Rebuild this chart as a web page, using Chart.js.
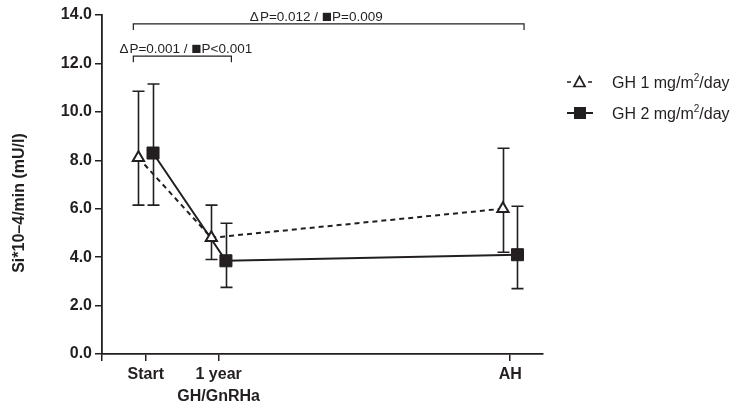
<!DOCTYPE html>
<html><head><meta charset="utf-8">
<script src="https://cdn.jsdelivr.net/npm/chart.js@4/dist/chart.umd.min.js"></script>
<style>html,body{margin:0;padding:0;background:#fff}#wrap{width:739px;height:409px;position:relative}</style>
</head><body><div id="wrap"><canvas id="c" width="739" height="409"></canvas></div>
<script>
// ---- data ----
const categories = ['Start', ['1 year', 'GH/GnRHa'], 'AH'];
const xPositions = [0, 1, 5];
const seriesLabels = ['GH 1 mg/m', 'GH 2 mg/m'];
const gh1Mean = [8.1, 4.8, 6.0];
const gh1Low = [6.15, 3.9, 4.2];
const gh1High = [10.85, 6.15, 8.5];
const gh2Mean = [8.3, 3.85, 4.1];
const gh2Low = [6.15, 2.75, 2.7];
const gh2High = [11.15, 5.4, 6.1];
const yTickValues = [0, 2, 4, 6, 8, 10, 12, 14];
const yTitle = 'Si*10–4/min (mU/l)';
const bracketFrom = [-0.17, -0.17];
const bracketTo = [5.19, 1.175];
const bracketLevel = [13.63, 12.3];
const bracketLabelX = [2.34, 0.55];
const bracketLabels = [['Δ', 'P=0.012 / ', '■', 'P=0.009'], ['Δ', 'P=0.001 / ', '■', 'P<0.001']];

const INK = '#231f20';
const OFFSET = 0.1;
const FONT = '"Liberation Sans", Arial, sans-serif';

const errorBars = {
  id: 'errorBars',
  beforeDatasetsDraw(chart) {
    const { ctx, scales: { x, y } } = chart;
    ctx.save();
    ctx.strokeStyle = INK; ctx.lineWidth = 1.6;
    [[gh1Low, gh1High, -OFFSET], [gh2Low, gh2High, OFFSET]].forEach(([lo, hi, off]) => {
      xPositions.forEach((xv, i) => {
        const px = Math.round(x.getPixelForValue(xv + off)) + 0.5;
        const a = y.getPixelForValue(lo[i]), b = y.getPixelForValue(hi[i]);
        ctx.beginPath();
        ctx.moveTo(px, a); ctx.lineTo(px, b);
        ctx.moveTo(px - 6, a); ctx.lineTo(px + 6, a);
        ctx.moveTo(px - 6, b); ctx.lineTo(px + 6, b);
        ctx.stroke();
      });
    });
    ctx.restore();
  },
  afterDraw(chart) {
    const { ctx, scales: { x, y } } = chart;
    ctx.save();
    // brackets
    ctx.strokeStyle = INK; ctx.lineWidth = 1.2; ctx.fillStyle = INK;
    bracketFrom.forEach((f, i) => {
      const x1 = x.getPixelForValue(f), x2 = x.getPixelForValue(bracketTo[i]);
      const py = y.getPixelForValue(bracketLevel[i]);
      ctx.beginPath();
      ctx.moveTo(x1, py + 6); ctx.lineTo(x1, py); ctx.lineTo(x2, py); ctx.lineTo(x2, py + 6);
      ctx.stroke();
      const parts = bracketLabels[i];
      const fonts = parts.map(p => (p === '■' ? '17px ' : '13.5px ') + FONT);
      const widths = parts.map((p, k) => { ctx.font = fonts[k]; return ctx.measureText(p).width; });
      const total = widths.reduce((s, w) => s + w, 0) + 1;
      let cx = x.getPixelForValue(bracketLabelX[i]) - total / 2;
      ctx.textBaseline = 'alphabetic';
      parts.forEach((p, k) => {
        ctx.font = fonts[k];
        ctx.fillText(p, cx, py - 3 + (p === '■' ? 1 : 0));
        cx += widths[k] + (k === 0 ? 1 : 0);
      });
    });
    // y title
    ctx.save();
    ctx.translate(20, 203);
    ctx.rotate(-Math.PI / 2);
    ctx.font = 'bold 16px ' + FONT;
    ctx.textAlign = 'center'; ctx.textBaseline = 'middle';
    ctx.fillText(yTitle, 0, 0);
    ctx.restore();
    // legend
    const lx = 579, rows = [82, 113];
    ctx.lineWidth = 1.5;
    // row 1: -Δ-
    ctx.beginPath();
    ctx.moveTo(567, rows[0]); ctx.lineTo(571, rows[0]);
    ctx.moveTo(588, rows[0]); ctx.lineTo(592, rows[0]);
    ctx.stroke();
    ctx.beginPath();
    ctx.moveTo(lx + 0.5, rows[0] - 5.5); ctx.lineTo(lx + 6, rows[0] + 4.5); ctx.lineTo(lx - 5, rows[0] + 4.5); ctx.closePath();
    ctx.lineWidth = 1.7; ctx.stroke();
    // row 2: -■-
    ctx.lineWidth = 2;
    ctx.beginPath(); ctx.moveTo(567, rows[1]); ctx.lineTo(593, rows[1]); ctx.stroke();
    ctx.fillRect(lx + 1 - 6, rows[1] - 6, 12, 12);
    // legend texts with superscript
    rows.forEach((ry, i) => {
      let tx = 612;
      ctx.font = '16px ' + FONT; ctx.textBaseline = 'alphabetic'; ctx.textAlign = 'left';
      ctx.fillText(seriesLabels[i], tx, ry + 5.5);
      tx += ctx.measureText(seriesLabels[i]).width;
      ctx.font = '10px ' + FONT;
      ctx.fillText('2', tx, ry - 1);
      tx += ctx.measureText('2').width;
      ctx.font = '16px ' + FONT;
      ctx.fillText('/day', tx, ry + 5.5);
    });
    ctx.restore();
  }
};

new Chart(document.getElementById('c'), {
  type: 'line',
  data: {
    datasets: [
      {
        label: 'GH 1',
        data: xPositions.map((v, i) => ({ x: v - OFFSET, y: gh1Mean[i] })),
        borderColor: INK, borderWidth: 2, borderDash: [5, 4],
        pointStyle: 'triangle', pointRadius: 6.5, pointBorderWidth: 2,
        pointBackgroundColor: '#fff', pointBorderColor: INK, tension: 0
      },
      {
        label: 'GH 2',
        data: xPositions.map((v, i) => ({ x: v + OFFSET, y: gh2Mean[i] })),
        borderColor: INK, borderWidth: 2,
        pointStyle: 'rect', pointRadius: 8.5, pointBorderWidth: 1,
        pointBackgroundColor: INK, pointBorderColor: INK, tension: 0
      }
    ]
  },
  options: {
    responsive: false, animation: false, devicePixelRatio: 1,
    layout: { padding: { left: 0, right: 196, top: 15, bottom: 0 } },
    plugins: { legend: { display: false }, tooltip: { enabled: false } },
    elements: { line: { clip: false } },
    scales: {
      x: {
        type: 'linear', min: -0.6, max: 5.45,
        afterFit: s => { s.height = 55; },
        afterBuildTicks: s => { s.ticks = [-0.6].concat(xPositions).map(v => ({ value: v })); },
        border: { display: true, color: INK, width: 1.8 },
        grid: { display: true, drawOnChartArea: false, drawTicks: true, tickLength: 7, color: INK, lineWidth: 1.5 },
        ticks: {
          color: INK, padding: 2, maxRotation: 0, autoSkip: false,
          font: { family: FONT, size: 16, weight: 'bold', lineHeight: 1.4 },
          callback: v => { const i = xPositions.indexOf(v); return i < 0 ? '' : categories[i]; }
        }
      },
      y: {
        min: 0, max: 14,
        afterFit: s => { s.width = 102; },
        afterBuildTicks: s => { s.ticks = yTickValues.map(v => ({ value: v })); },
        border: { display: true, color: INK, width: 1.8 },
        grid: { display: true, drawOnChartArea: false, drawTicks: true, tickLength: 7, color: INK, lineWidth: 1.5 },
        ticks: {
          color: INK, padding: 3,
          font: { family: FONT, size: 16, weight: 'bold' },
          callback: v => v.toFixed(1)
        }
      }
    }
  },
  plugins: [errorBars]
});
</script></body></html>
